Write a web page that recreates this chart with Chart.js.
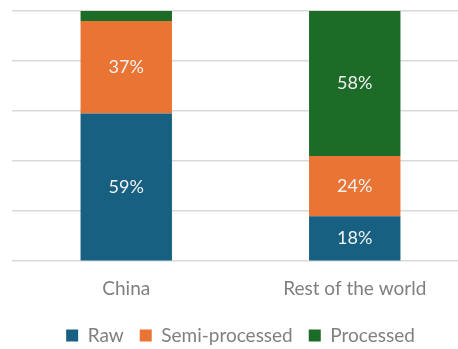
<!DOCTYPE html>
<html>
<head>
	<title>Raw vs processed share</title>
	<script src="https://cdn.jsdelivr.net/npm/chart.js@4"></script>
	<style>
		html, body { margin: 0; padding: 0; background: #fff; overflow: hidden; }
		#wrap { width: 470px; height: 349px; }
	</style>
</head>
<body>
	<div id="wrap"><canvas id="shareChart"></canvas></div>
	<script>
		// Share of exports by processing stage (%)
		const regions = ["China", "Rest of the world"];
		const rawShare = [59, 18];
		const semiShare = [37, 24];
		const processedShare = [4, 58];

		const FONT = "Lato, 'Open Sans', sans-serif";

		// write the value inside each segment, skip the thin ones
		const segmentLabels = {
			id: "segmentLabels",
			afterDatasetsDraw(chart) {
				const ctx = chart.ctx;
				ctx.save();
				ctx.font = "18px " + FONT;
				ctx.fillStyle = "#f2f2f2";
				ctx.textAlign = "center";
				ctx.textBaseline = "middle";
				chart.data.datasets.forEach((ds, i) => {
					chart.getDatasetMeta(i).data.forEach((bar, j) => {
						const v = ds.data[j];
						if (v < 8) return;
						const p = bar.getProps(["x", "y", "base"], true);
						ctx.fillText(v + "%", p.x, (p.y + p.base) / 2);
					});
				});
				ctx.restore();
			}
		};

		new Chart(document.getElementById("shareChart"), {
			type: "bar",
			data: {
				labels: regions,
				datasets: [
					{ label: "Raw", data: rawShare, backgroundColor: "#176082" },
					{ label: "Semi-processed", data: semiShare, backgroundColor: "#e97434" },
					{ label: "Processed", data: processedShare, backgroundColor: "#1c6b27" }
				]
			},
			options: {
				responsive: true,
				maintainAspectRatio: false,
				animation: false,
				datasets: { bar: { barPercentage: 0.4, categoryPercentage: 1 } },
				layout: { padding: { left: 12, right: 1, top: 11, bottom: -6 } },
				scales: {
					x: {
						stacked: true,
						grid: { display: false },
						border: { display: false },
						ticks: { color: "#808080", font: { family: FONT, size: 19 }, padding: 8 },
						// extra gap between the category names and the legend
						afterFit(scale) { scale.height += 2; }
					},
					y: {
						stacked: true,
						min: 0,
						max: 100,
						ticks: { display: false, stepSize: 20 },
						grid: { color: "#d9d9d9", lineWidth: 1.5, drawTicks: false },
						border: { display: false }
					}
				},
				plugins: {
					legend: {
						position: "bottom",
						labels: {
							boxWidth: 12,
							boxHeight: 12,
							padding: 16,
							color: "#808080",
							font: { family: FONT, size: 19 }
						}
					},
					tooltip: { enabled: false }
				}
			},
			plugins: [segmentLabels]
		});
	</script>
</body>
</html>
